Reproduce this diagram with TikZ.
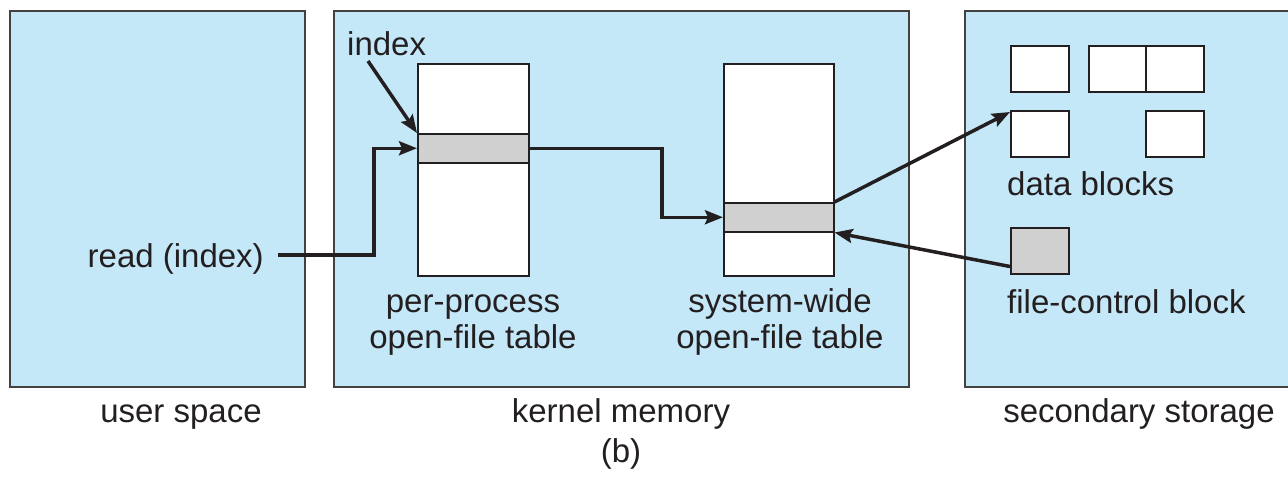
\documentclass[tikz,border=0pt]{standalone}
\usepackage{fontspec}
\setmainfont{Liberation Sans}
\usetikzlibrary{arrows.meta}
\definecolor{panel}{RGB}{197,232,248}
\definecolor{bandgray}{RGB}{208,208,208}
\definecolor{ink}{RGB}{35,31,32}
\begin{document}
\begin{tikzpicture}[x=1pt,y=-1pt,
  panelbox/.style={draw=ink!85, line width=1.6pt, fill=panel, anchor=north west, inner sep=0pt, minimum height=376pt},
  tbl/.style={draw=ink, line width=1.5pt, fill=white, anchor=north west, inner sep=0pt},
  bandbox/.style={draw=ink, line width=1.5pt, fill=bandgray, anchor=north west, inner sep=0pt},
  blk/.style={draw=ink, line width=1.5pt, fill=white, anchor=north west, inner sep=0pt, minimum width=58pt, minimum height=46pt},
  lbl/.style={font=\fontsize{33}{40}\selectfont, text=ink, inner sep=0pt},
  arr/.style={line width=3.5pt, draw=ink, -{Stealth[length=18pt,width=14pt,inset=3pt]}}
]
\clip (0,0) rectangle (1288,477);
\fill[white] (0,0) rectangle (1288,477);
% panels
\node[panelbox, minimum width=295pt] (user) at (9,10) {};
\node[panelbox, minimum width=575pt] (kern) at (333,10) {};
\node[panelbox, minimum width=340pt] (sec) at (964,10) {};
% tables
\node[tbl, minimum width=111pt, minimum height=212pt] (ppt) at (417,63) {};
\node[bandbox, minimum width=111pt, minimum height=29pt] (ppb) at (417,133) {};
\node[tbl, minimum width=110pt, minimum height=212pt] (swt) at (723,63) {};
\node[bandbox, minimum width=110pt, minimum height=29pt] (swb) at (723,202) {};
% blocks
\node[blk] (b1) at (1010,45) {};
\node[blk, minimum width=57pt] (b2) at (1088,45) {};
\node[blk] (b3) at (1145,45) {};
\node[blk] (b4) at (1010,110) {};
\node[blk] (b5) at (1145,110) {};
\node[blk, fill=bandgray] (fcb) at (1010,227) {};
% labels
\node[lbl, anchor=base west] (idx) at (347,55) {index};
\node[lbl, anchor=base east] (rd) at (264,267) {read (index)};
\node[lbl, anchor=base] (pp1) at (473,312) {per-process};
\node[lbl, anchor=base] (pp2) at (473,348) {open-file table};
\node[lbl, anchor=base] (sw1) at (780,312) {system-wide};
\node[lbl, anchor=base] (sw2) at (780,348) {open-file table};
\node[lbl, anchor=base west] (db) at (1007,195) {data blocks};
\node[lbl, anchor=base west] (fc) at (1007,313) {file-control block};
\node[lbl, anchor=base] (us) at (181,422) {user space};
\node[lbl, anchor=base] (km) at (621,422) {kernel memory};
\node[lbl, anchor=base] (ss) at (1139,422) {secondary storage};
\node[lbl, anchor=base] (bb) at (621,462) {(b)};
% connectors
\coordinate (rs) at (278,255);
\coordinate (is) at (368,61);
\draw[arr] (rs) -| ([xshift=-43pt]ppb.west) -- (ppb.west);
\draw[arr] (is) -- (ppb.north west);
\draw[arr] (ppb.east) -| ([xshift=-61pt]swb.west) -- (swb.west);
\draw[arr] (swb.north east) -- ([yshift=-2pt]b4.north west);
\draw[arr] ([yshift=8pt]fcb.south west) -- (swb.south east);
\end{tikzpicture}
\end{document}
